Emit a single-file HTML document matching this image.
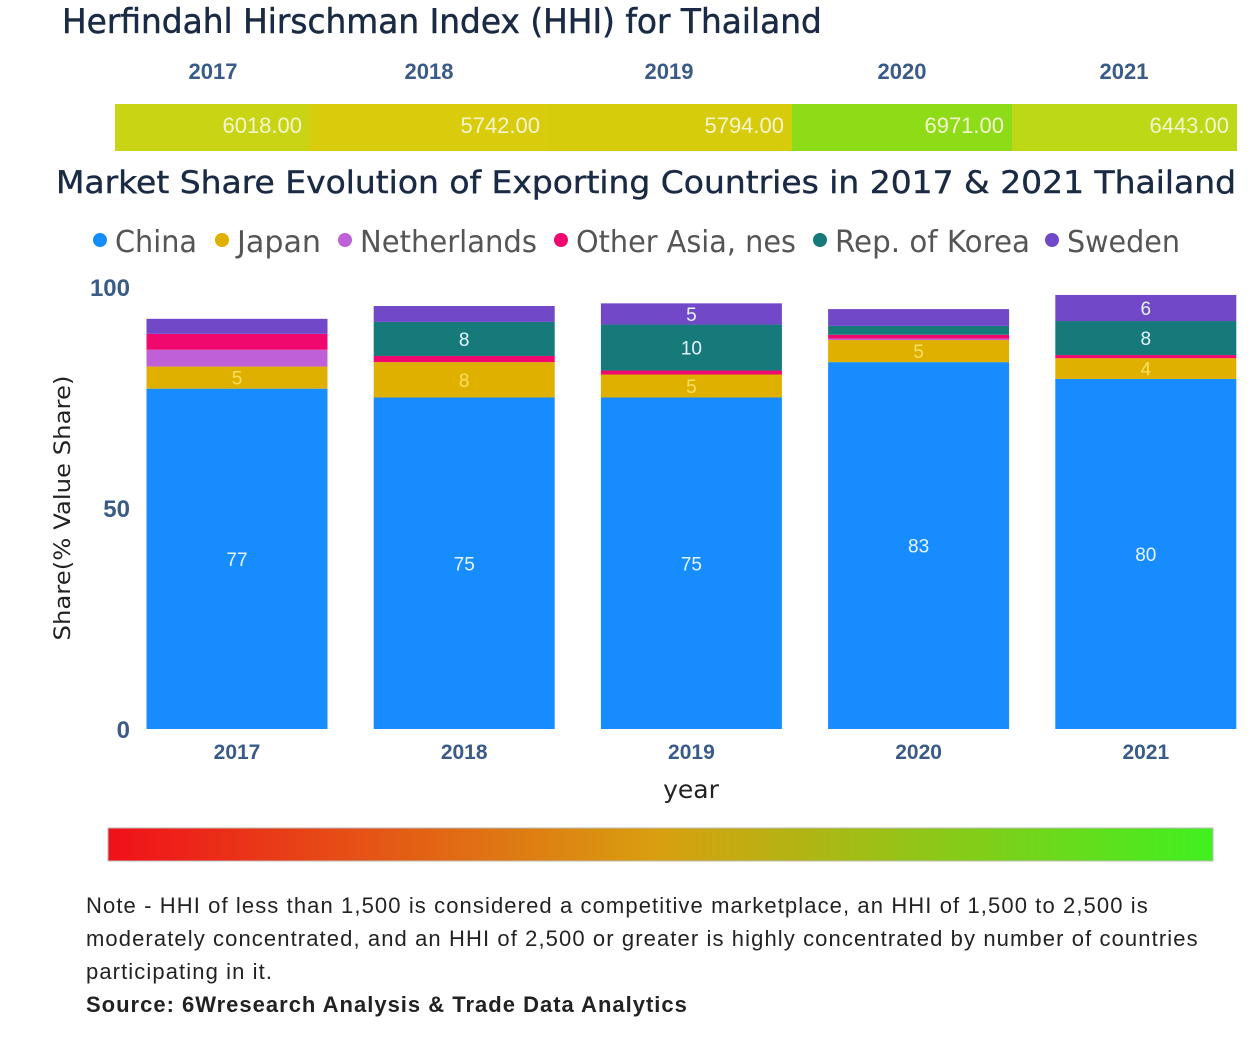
<!DOCTYPE html>
<html><head><meta charset="utf-8"><style>
body{margin:0;width:1250px;height:1037px;background:#fff;font-family:"Liberation Sans","DejaVu Sans",sans-serif;overflow:hidden;position:relative}
.a{position:absolute}
</style></head><body>
<div class="a" style="left:62px;top:2px;font-size:34px;color:#1a2a44;font-family:'DejaVu Sans',sans-serif;transform:scaleX(0.965);transform-origin:left;-webkit-text-stroke:0.5px #1a2a44">Herfindahl Hirschman Index (HHI) for Thailand</div>
<svg class="a" style="left:0;top:0" width="1250" height="1037">
<g id="hhi"></g>
<text x="646" y="193" text-anchor="middle" font-family="DejaVu Sans" font-size="31" fill="#1a2a44" stroke="#1a2a44" stroke-width="0.4" textLength="1180" lengthAdjust="spacingAndGlyphs">Market Share Evolution of Exporting Countries in 2017 &amp; 2021 Thailand</text>
<g id="legend"></g>
<g id="axes"></g>
<g id="bars"></g>
<text x="70" y="508" transform="rotate(-90 70 508)" text-anchor="middle" font-size="22" font-family="DejaVu Sans" fill="#222" textLength="265" lengthAdjust="spacingAndGlyphs">Share(% Value Share)</text>
<text x="691" y="798" text-anchor="middle" font-size="25" font-family="DejaVu Sans" fill="#222">year</text>
<defs><linearGradient id="gr"><stop offset="0" stop-color="#f0101a"/><stop offset="0.5" stop-color="#d8a010"/><stop offset="1" stop-color="#40f020"/></linearGradient></defs>
<rect x="108" y="828" width="1105" height="33" fill="url(#gr)" stroke="#bbb"/>
</svg>
<div class="a" style="left:86px;top:889px;width:1160px;white-space:nowrap;font-size:22px;line-height:33px;letter-spacing:1.1px;color:#222">Note - HHI of less than 1,500 is considered a competitive marketplace, an HHI of 1,500 to 2,500 is<br>moderately concentrated, and an HHI of 2,500 or greater is highly concentrated by number of countries<br>participating in it.<br><b style="letter-spacing:1px">Source: 6Wresearch Analysis &amp; Trade Data Analytics</b></div>
<script>
const years=['2017','2018','2019','2020','2021'];
const hhi=[6018,5742,5794,6971,6443];
const hhiColors=['#c8d414','#d8cc0c','#d6cc0c','#8edc18','#bcd816'];
const series=['China','Japan','Netherlands','Other Asia, nes','Rep. of Korea','Sweden'];
const colors=['#168cff','#e0b000','#c060d8','#f0086e','#177a7a','#7048c8'];
const china=[77,75,75,83,79.2];
const japan=[5,8,5.2,5,4.7];
const netherlands=[3.8,0,0,0.3,0];
const otherAsia=[3.6,1.4,0.9,0.9,0.7];
const korea=[0,7.7,10.4,2,7.7];
const sweden=[3.4,3.6,4.8,3.8,5.9];
const labels=[[77,5,null,null,null,null],[75,8,null,null,8,null],[75,5,null,null,10,5],[83,5,null,null,null,null],[80,4,null,null,8,6]];
const yTicks=[0,50,100];
const vals=[china,japan,netherlands,otherAsia,korea,sweden];
const NS='http://www.w3.org/2000/svg';
function mk(p,t,a,txt){const e=document.createElementNS(NS,t);for(const k in a)e.setAttribute(k,a[k]);if(txt!=null)e.textContent=txt;p.appendChild(e);return e;}
const y=v=>729-v*4.42, xc=i=>237+i*227.2, bw=181;
const hg=document.getElementById('hhi');
const hx=[115,310,548,792,1012,1237];
years.forEach((yr,i)=>{
 const h=mk(hg,'text',{x:[213,429,669,902,1124][i],y:79,'text-anchor':'middle','font-size':22,'font-weight':'bold',fill:'#3a5a88'},yr);
 
 const r=mk(hg,'rect',{x:hx[i],y:104,width:hx[i+1]-hx[i],height:47,fill:hhiColors[i]});
 
 const t=mk(hg,'text',{x:hx[i+1]-8,y:133,'text-anchor':'end','font-size':22,fill:'#f4f4d0'},hhi[i].toFixed(2));
 
});
const lg=document.getElementById('legend');
const lx=[100,222,345,561,820,1052];
series.forEach((s,i)=>{
 const g=mk(lg,'g',{});
 
 
 mk(g,'circle',{cx:lx[i],cy:240,r:7,fill:colors[i]});
 mk(g,'text',{x:lx[i]+15,y:252,'font-size':30,fill:'#555','font-family':'DejaVu Sans',textLength:[82,84,177,220,195,113][i],lengthAdjust:'spacingAndGlyphs'},s);
});
const ax=document.getElementById('axes');
yTicks.forEach(v=>{const t=mk(ax,'text',{x:130,y:y(v)+9,'text-anchor':'end','font-size':24,'font-weight':'bold',fill:'#3a5a88'},v);
 });
years.forEach((yr,i)=>{const t=mk(ax,'text',{x:xc(i),y:759,'text-anchor':'middle','font-size':21,'font-weight':'bold',fill:'#3a5a88'},yr);
 });
const bg=document.getElementById('bars');
years.forEach((yr,i)=>{let c=0;
 vals.forEach((arr,s)=>{const v=arr[i];if(!v)return;
  const r=mk(bg,'rect',{x:xc(i)-bw/2,y:y(c+v),width:bw,height:v*4.42,fill:colors[s]});
  
  
  const L=labels[i][s];
  if(L!=null){const t=mk(bg,'text',{x:xc(i),y:y(c+v/2)+7,'text-anchor':'middle','font-size':19,fill:s==1?'#f8e060':'#e8f4ff'},L);
   }
  c+=v;});
});
</script>
</body></html>
